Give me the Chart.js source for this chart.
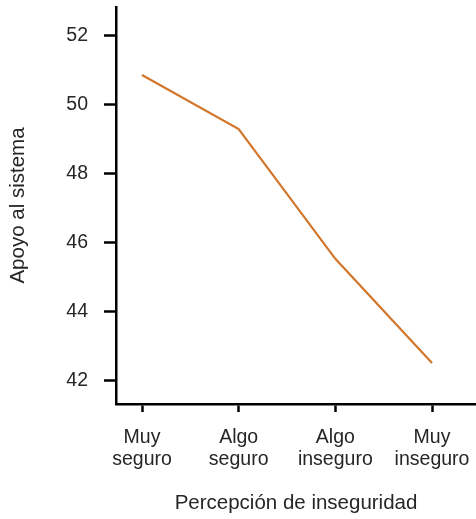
<!DOCTYPE html>
<html>
<head>
<meta charset="utf-8">
<script src="https://cdn.jsdelivr.net/npm/chart.js@4"></script>
<style>
  html, body { margin: 0; padding: 0; background: #fff; }
  #wrap { width: 476px; height: 519px; position: relative; }
</style>
</head>
<body>
<div id="wrap"><canvas id="c" width="476" height="519"></canvas></div>
<script>
const categories = [["Muy", "seguro"], ["Algo", "seguro"], ["Algo", "inseguro"], ["Muy", "inseguro"]];
const apoyo = [50.87, 49.3, 45.54, 42.52];
const yTicks = [42, 44, 46, 48, 50, 52];
const xTitle = "Percepción de inseguridad";
const yTitle = "Apoyo al sistema";

const family = "'Liberation Sans', Arial, sans-serif";
const tickFont = { family: family, size: 19.5 };
const titleFont = { family: family, size: 20.5, lineHeight: 1.2 };
const textColor = "#262626";

function zeroPad(s) {
  s.paddingTop = 0; s.paddingBottom = 0; s.paddingLeft = 0; s.paddingRight = 0;
}

new Chart(document.getElementById("c"), {
  type: "line",
  data: {
    datasets: [{
      data: apoyo.map((v, i) => ({ x: i, y: v })),
      borderColor: "#d2762b",
      borderWidth: 2.2,
      pointRadius: 0,
      tension: 0,
      fill: false
    }]
  },
  options: {
    responsive: false,
    animation: false,
    layout: { padding: { top: 7, right: 0, left: 0, bottom: 0 } },
    plugins: { legend: { display: false }, tooltip: { enabled: false } },
    scales: {
      x: {
        type: "linear",
        min: -0.269,
        max: 3.455,
        afterBuildTicks: s => { s.ticks = categories.map((_, i) => ({ value: i })); },
        afterFit: s => { s.height = 115; zeroPad(s); },
        ticks: {
          callback: v => categories[v],
          color: textColor,
          font: { ...tickFont, lineHeight: 22 / 19.5 },
          padding: 15,
          maxRotation: 0,
          minRotation: 0,
          autoSkip: false
        },
        grid: { drawOnChartArea: false, drawTicks: true, tickLength: 8, tickColor: "#000", tickWidth: 2.5 },
        border: { display: true, color: "#000", width: 2.5 },
        title: { display: true, text: xTitle, color: textColor, font: titleFont, padding: { top: 0, bottom: 3 } }
      },
      y: {
        type: "linear",
        min: 41.33,
        max: 52.84,
        afterBuildTicks: s => { s.ticks = yTicks.map(v => ({ value: v })); },
        afterFit: s => { s.width = 116; zeroPad(s); },
        ticks: { color: textColor, font: tickFont, padding: 16 },
        grid: { drawOnChartArea: false, drawTicks: true, tickLength: 12, tickColor: "#000", tickWidth: 2.5 },
        border: { display: true, color: "#000", width: 2.5 },
        title: { display: true, text: yTitle, color: textColor, font: titleFont, padding: { top: 6, bottom: 0 } }
      }
    }
  }
});
</script>
</body>
</html>
